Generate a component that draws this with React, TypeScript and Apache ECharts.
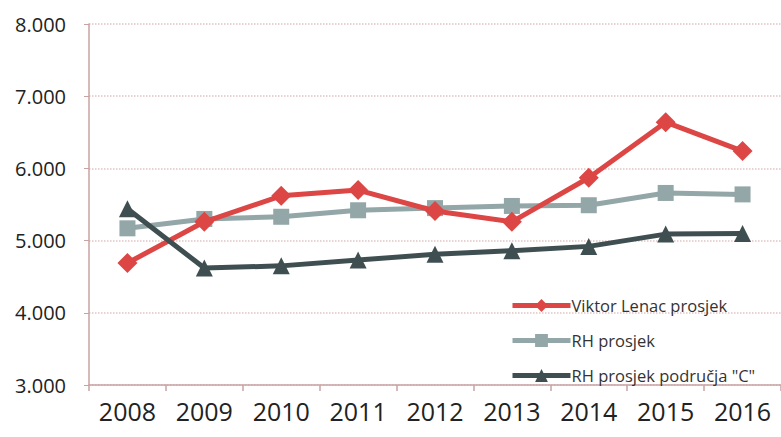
import React, { useEffect, useRef } from "react";
import * as echarts from "echarts";

const years = ["2008", "2009", "2010", "2011", "2012", "2013", "2014", "2015", "2016"];
const viktorLenac = [4690, 5260, 5620, 5700, 5410, 5260, 5870, 6640, 6240];
const rhProsjek = [5170, 5300, 5330, 5420, 5450, 5480, 5490, 5660, 5640];
const rhPodrucjaC = [5440, 4620, 4650, 4730, 4810, 4860, 4920, 5090, 5100];
const seriesNames = ["Viktor Lenac prosjek", "RH prosjek", "RH prosjek područja \"C\""];

export default function App() {
  const ref = useRef<HTMLDivElement>(null);
  useEffect(() => {
    if (!ref.current) return;
    const chart = echarts.init(ref.current, null, { renderer: "svg" });
    const font = "'Open Sans', 'Liberation Sans', sans-serif";
    chart.setOption({
      animation: false,
      backgroundColor: "#ffffff",
      grid: { left: 89, right: -5, top: 24, bottom: 52 },
      legend: {
        orient: "vertical",
        left: 505,
        top: 292,
        itemGap: 18,
        itemWidth: 58,
        itemHeight: 16,
        lineStyle: { width: 5 },
        textStyle: { fontFamily: font, fontSize: 16.5, color: "#333", padding: [0, 0, 0, -4] },
        data: seriesNames,
      },
      xAxis: {
        type: "category",
        data: years,
        boundaryGap: true,
        axisLine: { lineStyle: { color: "#c9a3a3", width: 1.5 } },
        axisTick: { show: true, length: 6, lineStyle: { color: "#c9a3a3", width: 1.5 } },
        axisLabel: { fontFamily: font, fontSize: 25, color: "#222", margin: 13, interval: 0 },
      },
      yAxis: {
        type: "value",
        min: 3000,
        max: 8000,
        interval: 1000,
        axisLine: { show: true, lineStyle: { color: "#c9a3a3", width: 1.5 } },
        axisTick: { show: true, length: 5, lineStyle: { color: "#c9a3a3" } },
        axisLabel: {
          fontFamily: font,
          fontSize: 20,
          color: "#222",
          margin: 23,
          formatter: (v: number) => (v / 1000).toFixed(3),
        },
        splitLine: { lineStyle: { color: "#e2c4c4", type: "dotted", width: 1.5 } },
      },
      series: [
        {
          name: seriesNames[0],
          type: "line",
          data: viktorLenac,
          symbol: "diamond",
          symbolSize: 20,
          lineStyle: { color: "#dc4644", width: 5 },
          itemStyle: { color: "#dc4644" },
          z: 3,
        },
        {
          name: seriesNames[1],
          type: "line",
          data: rhProsjek,
          symbol: "rect",
          symbolSize: 16,
          lineStyle: { color: "#93a6a8", width: 5 },
          itemStyle: { color: "#93a6a8" },
          z: 2,
        },
        {
          name: seriesNames[2],
          type: "line",
          data: rhPodrucjaC,
          symbol: "triangle",
          symbolSize: 17,
          lineStyle: { color: "#3f4f51", width: 5 },
          itemStyle: { color: "#3f4f51" },
          z: 4,
        },
      ],
    });
    return () => chart.dispose();
  }, []);
  return <div ref={ref} style={{ width: 781, height: 437, position: "fixed", left: 0, top: 0 }} />;
}
